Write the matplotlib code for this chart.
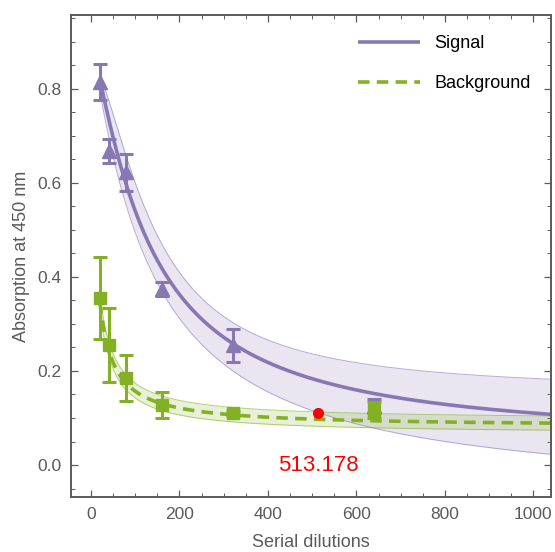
import numpy as np
import matplotlib
matplotlib.use("Agg")
import matplotlib.pyplot as plt

plt.rcParams['font.family'] = ['Liberation Sans', 'DejaVu Sans']

# measured points
dilutions = [20, 40, 80, 160, 320, 640]
signal = [0.815, 0.668, 0.622, 0.375, 0.255, 0.125]
signal_err = [0.038, 0.026, 0.040, 0.015, 0.035, 0.015]
background = [0.355, 0.255, 0.185, 0.128, 0.110, 0.117]
background_err = [0.088, 0.078, 0.048, 0.028, 0.005, 0.018]

# four-parameter logistic fit results (top, bottom, midpoint, slope)
signal_fit = (0.90, 0.045, 130.0, 1.22)
signal_hi = (0.86, 0.155, 140.0, 1.60)
signal_lo = (0.90, -0.070, 135.0, 1.10)
background_fit = (0.79, 0.081, 12.0, 1.0)
background_hi = (0.80, 0.096, 12.5, 1.0)
background_lo = (0.78, 0.066, 12.0, 1.0)

cutoff_x = 513.178
cutoff_y = 0.111

PURPLE = '#8778B3'
GREEN = '#84B124'
GRAY = '#5a5a5a'


def logistic4(x, p):
    a, d, c, b = p
    return d + (a - d) / (1 + (x / c) ** b)


fig = plt.figure(figsize=(5.55, 5.52), dpi=100)
ax = fig.add_axes([0.128, 0.0996, 0.865, 0.8734])

xs = np.linspace(dilutions[0], 1045, 400)

ax.fill_between(xs, logistic4(xs, signal_lo), logistic4(xs, signal_hi),
                color=PURPLE, alpha=0.18, lw=0)
ax.plot(xs, logistic4(xs, signal_hi), color=PURPLE, lw=0.7, alpha=0.6)
ax.plot(xs, logistic4(xs, signal_lo), color=PURPLE, lw=0.7, alpha=0.6)
ax.fill_between(xs, logistic4(xs, background_lo), logistic4(xs, background_hi),
                color=GREEN, alpha=0.18, lw=0)
ax.plot(xs, logistic4(xs, background_hi), color=GREEN, lw=0.7, alpha=0.6)
ax.plot(xs, logistic4(xs, background_lo), color=GREEN, lw=0.7, alpha=0.6)

ax.plot(xs, logistic4(xs, signal_fit), color=PURPLE, lw=2.6, label='Signal',
        solid_capstyle='butt')
ax.plot(xs, logistic4(xs, background_fit), color=GREEN, lw=2.6,
        dashes=(3.2, 2.0), label='Background')

ax.errorbar(dilutions, signal, yerr=signal_err, fmt='^', color=PURPLE,
            ms=10, elinewidth=2.2, capsize=5, capthick=2.2, zorder=4)
ax.errorbar(dilutions, background, yerr=background_err, fmt='s', color=GREEN,
            ms=8.5, elinewidth=2.2, capsize=5, capthick=2.2, zorder=5)

ax.plot([cutoff_x], [cutoff_y], 'o', color='#ff0000', ms=7, zorder=6)
ax.text(cutoff_x, 0.0, f"{cutoff_x:.3f}", color='#ff0000', fontsize=16,
        ha='center', va='center')

ax.set_xlim(-45, 1040)
ax.set_ylim(-0.068, 0.957)
ax.set_xticks([0, 200, 400, 600, 800, 1000])
ax.set_xticks(np.arange(0, 1041, 50), minor=True)
ax.set_yticks([0.0, 0.2, 0.4, 0.6, 0.8])
ax.set_yticks(np.arange(-0.05, 0.96, 0.05), minor=True)
ax.tick_params(which='both', direction='in', top=True, right=True,
               color=GRAY, labelcolor=GRAY, labelsize=12.5)
ax.tick_params(which='major', length=5, width=0.9, pad=7)
ax.tick_params(which='minor', length=3, width=0.7)
for s in ax.spines.values():
    s.set_color(GRAY)
    s.set_linewidth(1.4)

ax.set_xlabel('Serial dilutions', color=GRAY, fontsize=13, labelpad=9)
ax.set_ylabel('Absorption at 450 nm', color=GRAY, fontsize=13, labelpad=5)

leg = ax.legend(loc='upper right', frameon=False, fontsize=13,
                handlelength=3.4, labelspacing=1.25, borderaxespad=0.6,
                bbox_to_anchor=(0.995, 0.995))

fig.savefig('out.png', dpi=100)
